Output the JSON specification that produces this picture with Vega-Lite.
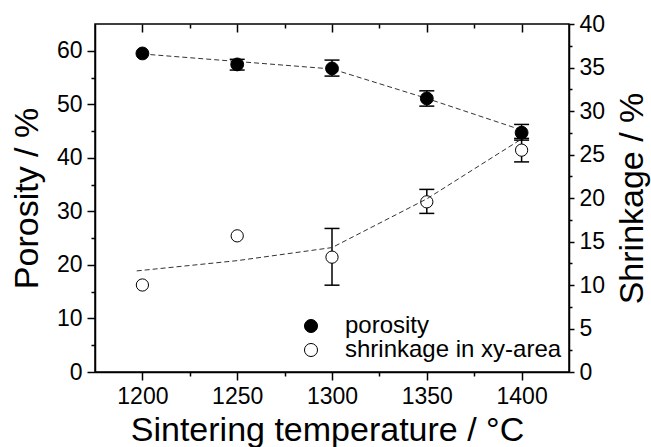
{
  "$schema": "https://vega.github.io/schema/vega-lite/v6.json",
  "width": 474,
  "height": 348,
  "autosize": {"type": "none"},
  "padding": {"left": 95, "top": 24, "right": 82, "bottom": 75},
  "background": "white",
  "config": {
    "view": {"stroke": "black", "strokeWidth": 1.5},
    "font": "Liberation Sans",
    "axis": {
      "grid": false,
      "domainColor": "black",
      "tickColor": "black",
      "labelColor": "black",
      "titleColor": "black",
      "domainWidth": 1.5,
      "tickWidth": 1.5,
      "labelFont": "Liberation Sans",
      "titleFont": "Liberation Sans",
      "labelFontSize": 23,
      "titleFontSize": 34,
      "titleFontWeight": "normal",
      "labelFlush": false,
      "labelOverlap": false
    }
  },
  "datasets": {
    "por_pts": [
      {"T": 1200, "v": 59.5, "series": "porosity"},
      {"T": 1250, "v": 57.45, "series": "porosity"},
      {"T": 1300, "v": 56.7, "series": "porosity"},
      {"T": 1350, "v": 51.1, "series": "porosity"},
      {"T": 1400, "v": 44.7, "series": "porosity"}
    ],
    "por_err": [
      {"T": 1250, "lo": 56.4, "hi": 58.4},
      {"T": 1300, "lo": 55.27, "hi": 58.26},
      {"T": 1350, "lo": 49.66, "hi": 52.52},
      {"T": 1400, "lo": 43.31, "hi": 46.24}
    ],
    "por_fit": [
      {"T": 1200, "v": 59.4},
      {"T": 1250, "v": 58.0},
      {"T": 1300, "v": 56.6},
      {"T": 1350, "v": 51.1},
      {"T": 1400, "v": 45.2}
    ],
    "shr_pts": [
      {"T": 1200, "v": 10.0, "series": "shrinkage in xy-area"},
      {"T": 1250, "v": 15.65, "series": "shrinkage in xy-area"},
      {"T": 1300, "v": 13.2, "series": "shrinkage in xy-area"},
      {"T": 1350, "v": 19.56, "series": "shrinkage in xy-area"},
      {"T": 1400, "v": 25.5, "series": "shrinkage in xy-area"}
    ],
    "shr_err": [
      {"T": 1300, "lo": 9.98, "hi": 16.5},
      {"T": 1350, "lo": 18.23, "hi": 20.99},
      {"T": 1400, "lo": 24.15, "hi": 26.85}
    ],
    "shr_fit": [
      {"T": 1197, "v": 11.62},
      {"T": 1250, "v": 12.8},
      {"T": 1300, "v": 14.3},
      {"T": 1350, "v": 19.9},
      {"T": 1399, "v": 26.65}
    ]
  },
  "layer": [
    {
      "data": {"name": "por_err"},
      "mark": {"type": "rule", "color": "black", "strokeWidth": 1.5, "opacity": 1},
      "encoding": {
        "x": {"field": "T", "type": "quantitative", "scale": {"domain": [1175, 1425], "nice": false, "zero": false}, "axis": null},
        "y": {"field": "lo", "type": "quantitative", "scale": {"domain": [0, 65], "nice": false, "zero": false}, "axis": null},
        "y2": {"field": "hi"}
      }
    },
    {
      "data": {"name": "por_err"},
      "transform": [{"fold": ["lo", "hi"], "as": ["end", "v"]}],
      "mark": {"type": "tick", "orient": "horizontal", "size": 15, "thickness": 1.5, "color": "black", "opacity": 1},
      "encoding": {
        "x": {"field": "T", "type": "quantitative", "scale": {"domain": [1175, 1425], "nice": false, "zero": false}, "axis": null},
        "y": {"field": "v", "type": "quantitative", "scale": {"domain": [0, 65], "nice": false, "zero": false}, "axis": null}
      }
    },
    {
      "data": {"name": "por_fit"},
      "mark": {"type": "line", "strokeDash": [5, 3], "strokeWidth": 1, "color": "#333333"},
      "encoding": {
        "x": {"field": "T", "type": "quantitative", "scale": {"domain": [1175, 1425], "nice": false, "zero": false}, "axis": null},
        "y": {"field": "v", "type": "quantitative", "scale": {"domain": [0, 65], "nice": false, "zero": false}, "axis": null}
      }
    },
    {
      "data": {"name": "por_pts"},
      "mark": {"type": "point", "shape": "circle", "filled": true, "size": 165, "stroke": "black", "strokeWidth": 1, "opacity": 1},
      "encoding": {
        "x": {
          "field": "T", "type": "quantitative",
          "scale": {"domain": [1175, 1425], "nice": false, "zero": false},
          "axis": {
            "orient": "bottom",
            "values": [1200, 1250, 1300, 1350, 1400],
            "format": "d",
            "tickSize": 8,
            "labelPadding": 5,
            "title": "Sintering temperature / °C",
            "titlePadding": 5,
            "titleX": 232
          }
        },
        "y": {
          "field": "v", "type": "quantitative",
          "scale": {"domain": [0, 65], "nice": false, "zero": false},
          "axis": {
            "orient": "left",
            "values": [0, 10, 20, 30, 40, 50, 60],
            "tickSize": 8,
            "labelPadding": 5,
            "title": "Porosity / %",
            "titlePadding": 12
          }
        },
        "fill": {
          "field": "series", "type": "nominal",
          "scale": {"domain": ["porosity", "shrinkage in xy-area"], "range": ["black", "white"]},
          "legend": {
            "orient": "none", "legendX": 204, "legendY": 290,
            "title": null, "padding": 0,
            "labelFont": "Liberation Sans", "labelFontSize": 24, "labelColor": "black",
            "labelOffset": 22, "rowPadding": -3, "labelLimit": 400,
            "symbolType": "circle", "symbolSize": 170,
            "symbolStrokeColor": "black", "symbolStrokeWidth": 1, "symbolOpacity": 1
          }
        }
      }
    },
    {
      "data": {"name": "shr_err"},
      "mark": {"type": "rule", "color": "black", "strokeWidth": 1.5, "opacity": 1},
      "encoding": {
        "x": {"field": "T", "type": "quantitative", "scale": {"domain": [1175, 1425], "nice": false, "zero": false}, "axis": null},
        "y": {"field": "lo", "type": "quantitative", "scale": {"domain": [0, 40], "nice": false, "zero": false}, "axis": null},
        "y2": {"field": "hi"}
      }
    },
    {
      "data": {"name": "shr_err"},
      "transform": [{"fold": ["lo", "hi"], "as": ["end", "v"]}],
      "mark": {"type": "tick", "orient": "horizontal", "size": 15, "thickness": 1.5, "color": "black", "opacity": 1},
      "encoding": {
        "x": {"field": "T", "type": "quantitative", "scale": {"domain": [1175, 1425], "nice": false, "zero": false}, "axis": null},
        "y": {"field": "v", "type": "quantitative", "scale": {"domain": [0, 40], "nice": false, "zero": false}, "axis": null}
      }
    },
    {
      "data": {"name": "shr_pts"},
      "mark": {"type": "point", "shape": "circle", "filled": true, "size": 150, "stroke": "black", "strokeWidth": 1, "opacity": 1},
      "encoding": {
        "x": {
          "field": "T", "type": "quantitative",
          "scale": {"domain": [1175, 1425], "nice": false, "zero": false},
          "axis": {
            "orient": "top",
            "values": [1200, 1250, 1300, 1350, 1400],
            "labels": false,
            "domain": false,
            "tickSize": 8,
            "offset": -8,
            "title": null
          }
        },
        "y": {
          "field": "v", "type": "quantitative",
          "scale": {"domain": [0, 40], "nice": false, "zero": false},
          "axis": {
            "orient": "right",
            "values": [0, 5, 10, 15, 20, 25, 30, 35, 40],
            "tickSize": 5,
            "labelPadding": 5,
            "title": "Shrinkage / %",
            "titleAngle": 270,
            "titleBaseline": "top",
            "titlePadding": 11
          }
        },
        "fill": {
          "field": "series", "type": "nominal",
          "scale": {"domain": ["porosity", "shrinkage in xy-area"], "range": ["black", "white"]},
          "legend": {
            "orient": "none", "legendX": 204, "legendY": 290,
            "title": null, "padding": 0,
            "labelFont": "Liberation Sans", "labelFontSize": 24, "labelColor": "black",
            "labelOffset": 22, "rowPadding": -3, "labelLimit": 400,
            "symbolType": "circle", "symbolSize": 170,
            "symbolStrokeColor": "black", "symbolStrokeWidth": 1, "symbolOpacity": 1
          }
        }
      }
    },
    {
      "data": {"name": "shr_fit"},
      "mark": {"type": "line", "strokeDash": [5, 3], "strokeWidth": 1, "color": "#333333"},
      "encoding": {
        "x": {"field": "T", "type": "quantitative", "scale": {"domain": [1175, 1425], "nice": false, "zero": false}, "axis": null},
        "y": {"field": "v", "type": "quantitative", "scale": {"domain": [0, 40], "nice": false, "zero": false}, "axis": null}
      }
    },
    {
      "data": {"name": "por_pts"},
      "mark": {"type": "point", "opacity": 0},
      "encoding": {
        "x": {
          "field": "T", "type": "quantitative",
          "scale": {"domain": [1175, 1425], "nice": false, "zero": false},
          "axis": {"orient": "bottom", "values": [1225, 1275, 1325, 1375], "labels": false, "tickSize": 4, "domain": false, "title": null}
        },
        "y": {
          "field": "v", "type": "quantitative",
          "scale": {"domain": [0, 65], "nice": false, "zero": false},
          "axis": {"orient": "left", "values": [5, 15, 25, 35, 45, 55], "labels": false, "tickSize": 4, "domain": false, "title": null}
        }
      }
    },
    {
      "data": {"name": "shr_pts"},
      "mark": {"type": "point", "opacity": 0},
      "encoding": {
        "x": {
          "field": "T", "type": "quantitative",
          "scale": {"domain": [1175, 1425], "nice": false, "zero": false},
          "axis": {"orient": "top", "values": [1225, 1275, 1325, 1375], "labels": false, "tickSize": 4, "offset": -4, "domain": false, "title": null}
        },
        "y": {
          "field": "v", "type": "quantitative",
          "scale": {"domain": [0, 40], "nice": false, "zero": false},
          "axis": {"orient": "right", "values": [2.5, 7.5, 12.5, 17.5, 22.5, 27.5, 32.5, 37.5], "labels": false, "tickSize": 3, "domain": false, "title": null}
        }
      }
    }
  ],
  "resolve": {
    "scale": {"y": "independent"},
    "axis": {"x": "independent", "y": "independent"}
  }
}
